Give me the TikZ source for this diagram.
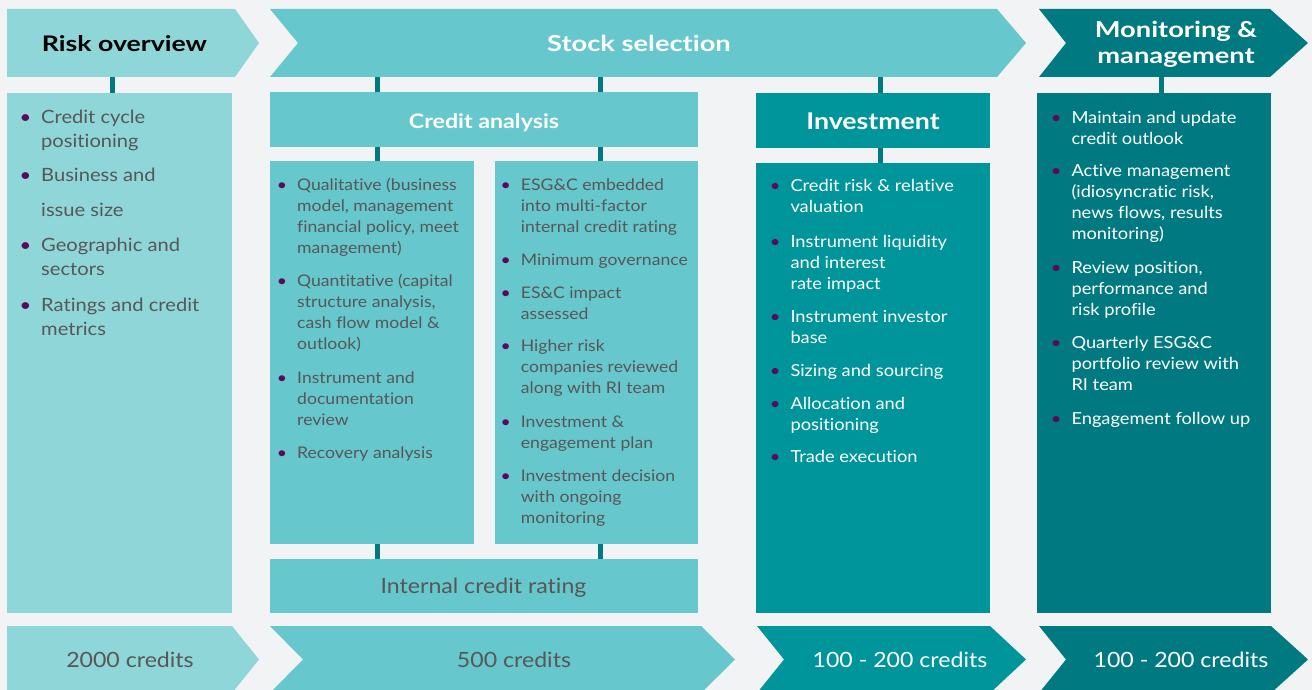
\documentclass[tikz,border=0pt]{standalone}
\usepackage{fontspec}
\setmainfont{Lato}[FakeStretch=1.1, Ligatures=NoCommon]
\newfontfamily\hfontA{Lato}[FakeStretch=1.24, Ligatures=NoCommon]
\newfontfamily\hfontB{Lato}[FakeStretch=1.16, Ligatures=NoCommon]
\definecolor{bg}{HTML}{F1F3F5}
\definecolor{cA}{HTML}{8FD6D9}
\definecolor{cB}{HTML}{66C7CC}
\definecolor{cC}{HTML}{00959B}
\definecolor{cD}{HTML}{007A80}
\definecolor{lnk}{HTML}{007A80}
\definecolor{txg}{HTML}{575757}
\definecolor{bul}{HTML}{5A0A5C}
\newcommand\bu{\rule{0pt}{20pt}\llap{\textcolor{bul}{\textbullet}\hspace{10pt}}}
\tikzset{
  box/.style={inner sep=0pt, outer sep=0pt, anchor=north west, minimum width=#1},
  itm/.style={inner sep=0pt, anchor=north west, align=left},
  fL/.style={font=\fontsize{18.3}{24}\selectfont, text=txg},
  fM/.style={font=\fontsize{16}{21}\selectfont, text=txg},
  fI/.style={font=\fontsize{16.6}{21}\selectfont, text=white},
  hdA/.style={inner sep=0pt, anchor=base, font=\hfontA\bfseries\fontsize{#1}{26}\selectfont, align=center},
  hdB/.style={inner sep=0pt, anchor=base, font=\hfontB\bfseries\fontsize{#1}{26}\selectfont, align=center},
  cnt/.style={inner sep=0pt, anchor=base, font=\fontsize{21}{24}\selectfont},
  cn/.style={draw=lnk, line width=5pt}
}
\begin{document}
\begin{tikzpicture}[x=1pt,y=-1pt]
\useasboundingbox (0,0) rectangle (1312,690);
\clip (0,0) rectangle (1312,690);
\fill[bg] (0,0) rectangle (1312,690);
% top chevrons
\fill[cA] (7,9) -- (235,9) -- (259,43) -- (235,77) -- (7,77) -- cycle;
\fill[cB] (270,9) -- (997,9) -- (1026,43) -- (997,77) -- (270,77) -- (298,43) -- cycle;
\fill[cD] (1039,9) -- (1270,9) -- (1308,43) -- (1270,77) -- (1039,77) -- (1066,43) -- cycle;
\node[hdA=21.5, text=black] (riskt) at (124.5,51.5) {Risk overview};
\node[hdA=22, text=white] (stockt) at (639,51.5) {Stock selection};
\node[hdA=22, text=white] (mont) at (1176,63.3) {Monitoring \&\\management};
% bottom chevrons
\fill[cA] (7,626) -- (232,626) -- (259,659.5) -- (232,693) -- (7,693) -- cycle;
\fill[cB] (270,626) -- (701,626) -- (735,659.5) -- (701,693) -- (270,693) -- (303,659.5) -- cycle;
\fill[cC] (757,626) -- (990,626) -- (1026,659.5) -- (990,693) -- (757,693) -- (784,659.5) -- cycle;
\fill[cD] (1039,626) -- (1271,626) -- (1308,659.5) -- (1271,693) -- (1039,693) -- (1066,659.5) -- cycle;
\node[cnt, text=txg] (n1) at (130,667) {2000 credits};
\node[cnt, text=txg] (n2) at (514,667) {500 credits};
\node[cnt, text=white] (n3) at (900,667) {100 - 200 credits};
\node[cnt, text=white] (n4) at (1181,667) {100 - 200 credits};
% boxes
\node[box=225, fill=cA, minimum height=520] (riskbox) at (7,93) {};
\node[box=428, fill=cB, minimum height=55] (credhead) at (270,92) {};
\node[box=204, fill=cB, minimum height=383] (credL) at (270,161) {};
\node[box=203, fill=cB, minimum height=383] (credR) at (495,161) {};
\node[box=428, fill=cB, minimum height=54] (icr) at (270,559) {};
\node[box=234, fill=cC, minimum height=55] (invhead) at (756,93) {};
\node[box=234, fill=cC, minimum height=450] (invbox) at (756,163) {};
\node[box=234, fill=cD, minimum height=520] (monbox) at (1037,93) {};
\node[hdB=20, text=white] (credt) at (484,128.3) {Credit analysis};
\node[hdB=23, text=white] (invt) at (873,130) {Investment};
\node[cnt, text=txg] (icrt) at (483.5,593) {Internal credit rating};
% connectors
\coordinate (kR) at (112,77);
\coordinate (kA) at (377,77);
\coordinate (kB) at (600,77);
\coordinate (kI) at (880,77);
\coordinate (kM) at (1161,77);
\draw[cn] (kR) -- (kR |- riskbox.north);
\draw[cn] (kA) -- (kA |- credhead.north);
\draw[cn] (kB) -- (kB |- credhead.north);
\draw[cn] (credhead.south -| kA) -- (kA |- credL.north);
\draw[cn] (credhead.south -| kB) -- (kB |- credR.north);
\draw[cn] (credL.south -| kA) -- (kA |- icr.north);
\draw[cn] (credR.south -| kB) -- (kB |- icr.north);
\draw[cn] (kI) -- (kI |- invhead.north);
\draw[cn] (invhead.south -| kI) -- (kI |- invbox.north);
\draw[cn] (kM) -- (kM |- monbox.north);
% left column
\node[itm, fL] (r1) at (41,103) {\bu Credit cycle\\positioning};
\node[itm, fL] (r2) at (41,161.7) {\bu Business and\\[11pt]issue size};
\node[itm, fL] (r3) at (41,231) {\bu Geographic and\\sectors};
\node[itm, fL] (r4) at (41,291.7) {\bu Ratings and credit\\metrics};
% credit analysis left
\node[itm, fM] (a1) at (297,170) {\bu Qualitative (business\\model, management\\financial policy, meet\\management)};
\node[itm, fM] (a2) at (297,266) {\bu Quantitative (capital\\structure analysis,\\cash flow model \&\\outlook)};
\node[itm, fM] (a3) at (297,363.3) {\bu Instrument and\\documentation\\review};
\node[itm, fM] (a4) at (297,438.3) {\bu Recovery analysis};
% credit analysis right
\node[itm, fM] (b1) at (520.7,170) {\bu ESG\&C embedded\\into multi-factor\\internal credit rating};
\node[itm, fM] (b2) at (520.7,245) {\bu Minimum governance};
\node[itm, fM] (b3) at (520.7,278) {\bu ES\&C impact\\assessed};
\node[itm, fM] (b4) at (520.7,331.7) {\bu Higher risk\\companies reviewed\\along with RI team};
\node[itm, fM] (b5) at (520.7,407.7) {\bu Investment \&\\engagement plan};
\node[itm, fM] (b6) at (520.7,461.7) {\bu Investment decision\\with ongoing\\monitoring};
% investment
\node[itm, fI] (i1) at (790.3,171.7) {\bu Credit risk \& relative\\valuation};
\node[itm, fI] (i2) at (790.3,227.3) {\bu Instrument liquidity\\and interest\\rate impact};
\node[itm, fI] (i3) at (790.3,302.3) {\bu Instrument investor\\base};
\node[itm, fI] (i4) at (790.3,356) {\bu Sizing and sourcing};
\node[itm, fI] (i5) at (790.3,389) {\bu Allocation and\\positioning};
\node[itm, fI] (i6) at (790.3,442.7) {\bu Trade execution};
% monitoring
\node[itm, fI] (m1) at (1071.3,103.3) {\bu Maintain and update\\credit outlook};
\node[itm, fI] (m2) at (1071.3,156) {\bu Active management\\(idiosyncratic risk,\\news flows, results\\monitoring)};
\node[itm, fI] (m3) at (1071.3,253.3) {\bu Review position,\\performance and\\risk profile};
\node[itm, fI] (m4) at (1071.3,328.3) {\bu Quarterly ESG\&C\\portfolio review with\\RI team};
\node[itm, fI] (m5) at (1071.3,404) {\bu Engagement follow up};
\end{tikzpicture}
\end{document}
